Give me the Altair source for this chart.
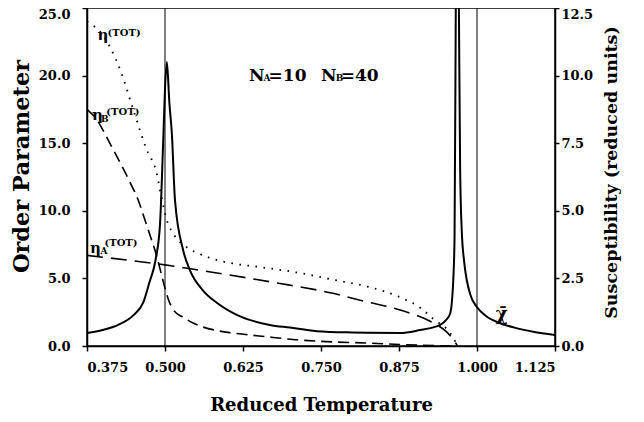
import altair as alt
import pandas as pd

# ---- data ----
eta_tot_x = [0.375, 0.40, 0.412, 0.43, 0.449, 0.47, 0.487, 0.493, 0.503, 0.515, 0.535, 0.556, 0.588, 0.609, 0.65, 0.716, 0.77, 0.824, 0.877, 0.91, 0.93, 0.957, 0.969]
eta_tot_y = [24.0, 23.0, 22.1, 20.2, 17.5, 14.6, 12.7, 11.3, 9.3, 8.2, 7.3, 6.8, 6.3, 6.1, 5.85, 5.4, 4.9, 4.4, 3.6, 2.8, 2.0, 0.96, 0.0]

eta_b_x = [0.375, 0.388, 0.415, 0.444, 0.457, 0.468, 0.476, 0.487, 0.497, 0.505, 0.513, 0.53, 0.545, 0.588, 0.609, 0.66, 0.716, 0.77, 0.824, 0.88, 0.93, 0.96]
eta_b_y = [17.5, 16.9, 14.7, 12.1, 10.8, 9.3, 8.2, 6.6, 4.8, 3.5, 2.7, 2.1, 1.7, 1.1, 0.96, 0.7, 0.44, 0.3, 0.22, 0.1, 0.03, 0.0]

eta_a_x = [0.375, 0.45, 0.5, 0.556, 0.636, 0.70, 0.769, 0.82, 0.877, 0.93, 0.95, 0.96, 0.969]
eta_a_y = [6.7, 6.3, 6.0, 5.6, 5.0, 4.5, 3.9, 3.3, 2.66, 1.7, 1.1, 0.6, 0.0]

# susceptibility (reduced units, right axis)
chi_x = [0.375, 0.40, 0.425, 0.45, 0.465, 0.475, 0.485, 0.492, 0.497, 0.500, 0.503, 0.507, 0.511, 0.516,
         0.529, 0.54, 0.561, 0.583, 0.615, 0.668, 0.70, 0.743, 0.80, 0.824, 0.877, 0.909, 0.93, 0.941,
         0.950, 0.957, 0.960, 0.962, 0.964, 0.966, 0.9685, 0.971, 0.973, 0.9755, 0.9795, 0.9835, 0.99,
         0.9995, 1.015, 1.036, 1.06, 1.09, 1.125]
chi_y = [0.48, 0.59, 0.78, 1.15, 1.6, 2.35, 3.2, 4.5, 7.5, 9.5, 10.5, 9.0, 7.85, 5.4,
         3.55, 2.8, 2.05, 1.6, 1.15, 0.78, 0.68, 0.55, 0.5, 0.49, 0.48, 0.59, 0.69, 0.78,
         0.95, 1.2, 1.7, 2.45, 4.0, 12.5, 20.0, 12.5, 6.5, 4.3, 3.1, 2.45, 1.85,
         1.45, 1.1, 0.85, 0.68, 0.53, 0.41]

vlines = [0.5, 1.0]

x_ticks = [0.375, 0.5, 0.625, 0.75, 0.875, 1.0, 1.125]
yl_ticks = [0.0, 5.0, 10.0, 15.0, 20.0, 25.0]
yr_ticks = [0.0, 2.5, 5.0, 7.5, 10.0, 12.5]

ann_text = ["η", "(TOT)", "η", "B", "(TOT)", "η", "A", "(TOT)", "χ̄",
            "N", "A", "=10", "N", "B", "=40"]
ann_x = [0.392, 0.408, 0.383, 0.3975, 0.406, 0.380, 0.3965, 0.403, 1.030,
         0.6346, 0.6580, 0.6660, 0.7500, 0.7735, 0.7815]
ann_y = [22.6, 22.9, 16.7, 16.6, 17.1, 6.9, 6.8, 7.4, 1.9,
         19.6, 19.6, 19.6, 19.6, 19.6, 19.6]
ann_fs = [15, 10, 15, 9, 10, 15, 9, 10, 18,
          17, 9, 17, 17, 9, 17]

FONT = "DejaVu Serif"

xs = alt.X("x:Q", scale=alt.Scale(domain=[0.375, 1.125], nice=False, zero=False),
           axis=alt.Axis(values=x_ticks, format=".3f", title="Reduced Temperature",
                         tickSize=5, labelPadding=10, titlePadding=22, titleFontSize=18))
yl_scale = alt.Scale(domain=[0, 25], nice=False)
yl_axis = alt.Axis(values=yl_ticks, format=".1f", title="Order Parameter", orient="left",
                   tickSize=5, labelPadding=12, titlePadding=5, titleFontSize=22.5, titleY=158,
                   labelBaseline={"condition": {"test": "datum.value >= 25", "value": "top"},
                                  "value": "middle"})


def line(xv, yv, dash, width=1.6):
    df = pd.DataFrame({"x": xv, "y": yv})
    return alt.Chart(df).mark_line(color="black", strokeWidth=width, strokeDash=dash,
                                   interpolate="monotone").encode(
        x=xs, y=alt.Y("y:Q", scale=yl_scale, axis=yl_axis))


l_tot = line(eta_tot_x, eta_tot_y, [1.6, 6.5], 1.8)
l_b = line(eta_b_x, eta_b_y, [11, 6])
l_a = line(eta_a_x, eta_a_y, [16, 8])

rules = alt.Chart(pd.DataFrame({"x": vlines})).mark_rule(color="black", strokeWidth=1).encode(
    x=alt.X("x:Q", scale=alt.Scale(domain=[0.375, 1.125], nice=False, zero=False)))

ann = alt.Chart(pd.DataFrame({"t": ann_text, "x": ann_x, "y": ann_y, "fs": ann_fs})).mark_text(
    align="left", baseline="alphabetic", font=FONT, fontWeight="bold", color="black").encode(
    x=alt.X("x:Q", scale=alt.Scale(domain=[0.375, 1.125], nice=False, zero=False)),
    y=alt.Y("y:Q", scale=yl_scale),
    text="t:N",
    size=alt.Size("fs:Q", scale=None, legend=None))

left = alt.layer(l_tot, l_b, l_a, rules, ann)

chi = alt.Chart(pd.DataFrame({"x": chi_x, "y": chi_y})).mark_line(
    color="black", strokeWidth=2, interpolate="monotone", clip=True).encode(
    x=alt.X("x:Q", scale=alt.Scale(domain=[0.375, 1.125], nice=False, zero=False)),
    y=alt.Y("y:Q", scale=alt.Scale(domain=[0, 12.5], nice=False),
            axis=alt.Axis(values=yr_ticks, format=".1f", title="Susceptibility (reduced units)",
                          orient="right", tickSize=4, labelPadding=2, titlePadding=28,
                          titleFontSize=17.5, titleAngle=270, titleY=164,
                          labelBaseline={"condition": {"test": "datum.value >= 12.5", "value": "top"},
                                         "value": "middle"})))

chart = alt.layer(left, chi).resolve_scale(y="independent").properties(
    width=468, height=338,
    autosize=alt.AutoSizeParams(type="none"),
    padding={"left": 79, "top": 0, "right": 81, "bottom": 68},
).configure_view(stroke="black", strokeWidth=1.5).configure_axis(
    grid=False, domainColor="black", domainWidth=1.5, tickColor="black", tickWidth=1.5,
    labelFont=FONT, labelFontWeight="bold", labelFontSize=13, labelColor="black",
    titleFont=FONT, titleFontWeight="bold", titleColor="black")

chart.save("out.html", embed_options={"renderer": "svg", "actions": False})
